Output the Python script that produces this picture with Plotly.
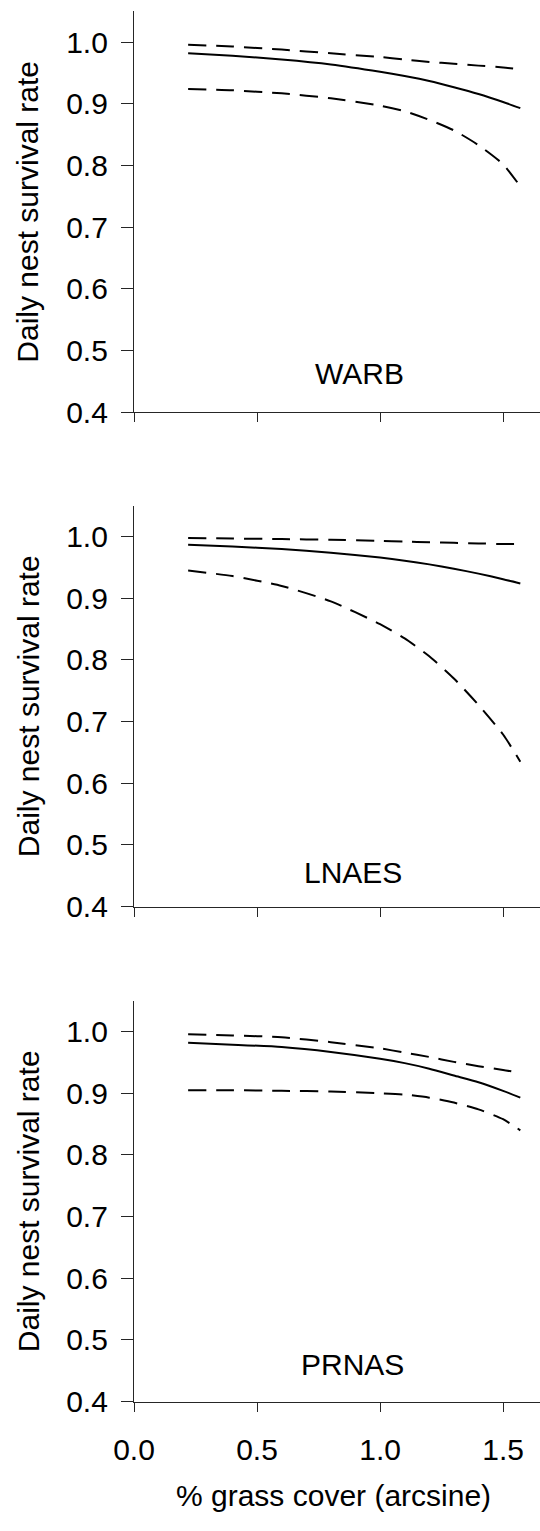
import plotly.graph_objects as go

# Arcsine-transformed % grass cover (shared x grid)
grass = [0.22, 0.4, 0.6, 0.8, 1.0, 1.1, 1.2, 1.3, 1.4, 1.5, 1.57]

species = ["WARB", "LNAES", "PRNAS"]

# Daily nest survival rate: estimate, upper and lower 95% CI
warb_est = [0.982, 0.978, 0.972, 0.964, 0.952, 0.945, 0.937, 0.927, 0.916, 0.903, 0.893]
warb_hi = [0.996, 0.993, 0.988, 0.982, 0.976, 0.972, 0.968, 0.965, 0.962, 0.959, 0.956]
warb_lo = [0.924, 0.922, 0.917, 0.909, 0.897, 0.888, 0.874, 0.857, 0.833, 0.802, 0.766]

lnaes_est = [0.987, 0.984, 0.980, 0.974, 0.966, 0.961, 0.955, 0.948, 0.940, 0.931, 0.924]
lnaes_hi = [0.998, 0.997, 0.996, 0.995, 0.993, 0.992, 0.991, 0.990, 0.989, 0.988, 0.988]
lnaes_lo = [0.945, 0.936, 0.920, 0.895, 0.858, 0.835, 0.806, 0.770, 0.727, 0.679, 0.635]

prnas_est = [0.982, 0.979, 0.975, 0.967, 0.956, 0.949, 0.940, 0.929, 0.918, 0.904, 0.893]
prnas_hi = [0.996, 0.994, 0.991, 0.983, 0.973, 0.966, 0.959, 0.951, 0.944, 0.938, 0.933]
prnas_lo = [0.905, 0.905, 0.904, 0.903, 0.900, 0.898, 0.893, 0.885, 0.874, 0.858, 0.840]

y_ticks = [0.4, 0.5, 0.6, 0.7, 0.8, 0.9, 1.0]
x_ticks = [0.0, 0.5, 1.0, 1.5]

panels = [
    (warb_est, warb_hi, warb_lo),
    (lnaes_est, lnaes_hi, lnaes_lo),
    (prnas_est, prnas_hi, prnas_lo),
]
label_x = [0.915, 0.89, 0.89]
label_y = [0.462, 0.456, 0.46]

W, H = 540, 1531
ML = 134
FONT = "Arial, 'Liberation Sans', sans-serif"
AX = "#262626"

# panel pixel geometry (top of axis, bottom axis line)
tops = [11.5, 511.5, 1012.1]
bottoms = [416.7, 916.7, 1417.3]

fig = go.Figure()
layout = dict(
    width=W, height=H,
    margin=dict(l=ML, r=0, t=0, b=0),
    paper_bgcolor="white", plot_bgcolor="white",
    showlegend=False,
    font=dict(family=FONT, size=30, color="black"),
)
annotations = []

for i, (est, hi, lo) in enumerate(panels):
    n = "" if i == 0 else str(i + 1)
    xa, ya = "x" + n, "y" + n
    for vals, dash in ((hi, "18px,10px"), (est, "solid"), (lo, "18px,10px")):
        fig.add_trace(go.Scatter(
            x=grass, y=vals, xaxis=xa, yaxis=ya, mode="lines",
            line=dict(color="black", width=2, dash=dash, shape="spline", smoothing=0.6),
            hoverinfo="skip",
        ))
    d0 = (H - bottoms[i]) / H
    d1 = (H - tops[i]) / H
    layout["xaxis" + n] = dict(
        domain=[0, 1], range=[0, 1.65], anchor=ya,
        showline=True, linecolor=AX, linewidth=1.3,
        ticks="outside", ticklen=9, tickwidth=1.3, tickcolor=AX,
        tickvals=x_ticks, ticktext=[f"{v:.1f}" for v in x_ticks],
        showticklabels=(i == 2), showgrid=False, zeroline=False,
        ticklabelstandoff=12,
        tickfont=dict(size=30, color="black", family=FONT),
    )
    layout["yaxis" + n] = dict(
        domain=[d0, d1], range=[0.4, 1.05], anchor=xa,
        showline=True, linecolor=AX, linewidth=1.3,
        ticks="outside", ticklen=12, tickwidth=1.3, tickcolor=AX,
        tickvals=y_ticks, ticktext=[f"{v:.1f}" for v in y_ticks],
        showgrid=False, zeroline=False,
        ticklabelstandoff=7,
        tickfont=dict(size=30, color="black", family=FONT),
    )
    annotations.append(dict(
        text=species[i], x=label_x[i], y=label_y[i], xref=xa, yref=ya,
        showarrow=False, xanchor="center", yanchor="middle",
        font=dict(size=30, color="black", family=FONT),
    ))
    annotations.append(dict(
        text="Daily nest survival rate", textangle=-90,
        x=(28 - ML) / (W - ML), y=(d0 + d1) / 2, xref="paper", yref="paper",
        showarrow=False, xanchor="center", yanchor="middle",
        font=dict(size=30, color="black", family=FONT),
    ))

annotations.append(dict(
    text="% grass cover (arcsine)",
    x=(333 - ML) / (W - ML), y=(H - 1512) / H, xref="paper", yref="paper",
    showarrow=False, xanchor="center", yanchor="middle",
    font=dict(size=30, color="black", family=FONT),
))
layout["annotations"] = annotations
fig.update_layout(**layout)
fig.write_html("out.html")
